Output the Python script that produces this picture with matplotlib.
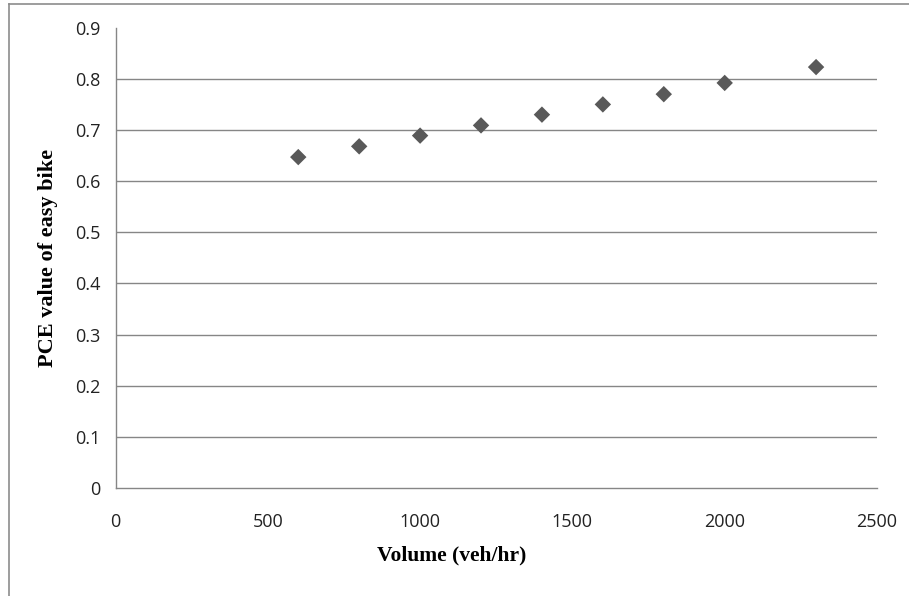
import matplotlib
matplotlib.use("Agg")
import matplotlib.pyplot as plt
from matplotlib.lines import Line2D

volume = [600, 800, 1000, 1200, 1400, 1600, 1800, 2000, 2300]
pce = [0.647, 0.668, 0.689, 0.709, 0.730, 0.750, 0.770, 0.792, 0.823]
x_ticks = [0, 500, 1000, 1500, 2000, 2500]
y_ticks = [0, 0.1, 0.2, 0.3, 0.4, 0.5, 0.6, 0.7, 0.8, 0.9]
y_tick_labels = ["0", "0.1", "0.2", "0.3", "0.4", "0.5", "0.6", "0.7", "0.8", "0.9"]

W, H = 909, 596
fig = plt.figure(figsize=(W / 100, H / 100), dpi=100)
# outer frame: top and left edges only
fig.add_artist(Line2D([8.5 / W, 1.0], [1 - 3.5 / H, 1 - 3.5 / H], transform=fig.transFigure,
                      color="#8c8c8c", linewidth=1.2))
fig.add_artist(Line2D([8.5 / W, 8.5 / W], [0.0, 1 - 3.5 / H], transform=fig.transFigure,
                      color="#8c8c8c", linewidth=1.2))

ax = fig.add_axes([115.5 / W, 1 - 488 / H, (877 - 115.5) / W, (488 - 27.7) / H])
ax.set_xlim(0, 2500)
ax.set_ylim(0, 0.9)

for v in y_ticks[1:-1]:
    ax.axhline(v, color="#868686", linewidth=1.0, zorder=1)

ax.scatter(volume, pce, marker="D", s=70, color="#595959", edgecolors="none", zorder=3)

for s in ["top", "right"]:
    ax.spines[s].set_visible(False)
for s in ["left", "bottom"]:
    ax.spines[s].set_color("#868686")
    ax.spines[s].set_linewidth(1.0)

tick_family = ["Liberation Sans Narrow", "Open Sans", "DejaVu Sans"]
ax.set_xticks(x_ticks)
ax.set_xticklabels([str(t) for t in x_ticks], fontsize=13, color="#222222", family=tick_family)
ax.set_yticks(y_ticks)
ax.set_yticklabels(y_tick_labels, fontsize=13, color="#222222", family=tick_family)
ax.tick_params(axis="both", length=0)
ax.tick_params(axis="x", pad=18)
ax.tick_params(axis="y", pad=11)

fig.text(452 / W, 1 - 555 / H, "Volume (veh/hr)", ha="center", va="center",
         fontsize=15.5, fontweight="bold", family="Liberation Serif")
fig.text(48 / W, 1 - 258 / H, "PCE value of easy bike", ha="center", va="center",
         rotation=90, fontsize=16, fontweight="bold", family="Liberation Serif")

fig.savefig("out.png", dpi=100)
